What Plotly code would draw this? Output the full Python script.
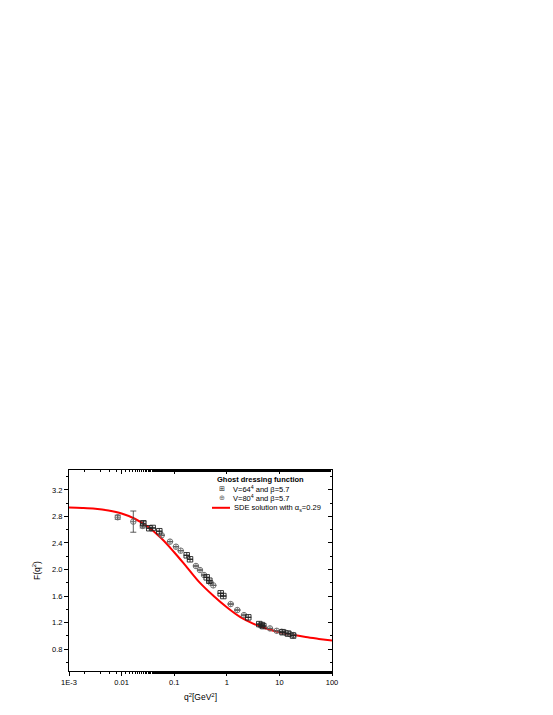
"""Ghost dressing function: lattice data vs. SDE solution."""

import plotly.graph_objects as go

FONT = "Liberation Sans, Arial, sans-serif"

# V=64^4, beta=5.7 (squares)
q2_64 = [0.0259, 0.0336, 0.039, 0.0521, 0.173, 0.2, 0.415, 0.465, 0.766, 0.859,
         2.56, 4.15, 4.61, 4.94, 11.5, 14.6, 18.2]
f_64 = [2.697, 2.622, 2.626, 2.577, 2.214, 2.154, 1.882, 1.831, 1.641, 1.600,
        1.279, 1.177, 1.162, 1.147, 1.055, 1.034, 1.004]
err_64 = [0.03, 0.0, 0.0, 0.0, 0.0, 0.0, 0.0, 0.0, 0.0, 0.0,
          0.0, 0.0, 0.0, 0.0, 0.0, 0.0, 0.0]

# V=80^4, beta=5.7 (circles)
q2_80 = [0.00843, 0.0167, 0.0252, 0.0578, 0.0832, 0.108, 0.133, 0.259, 0.309, 0.369,
         0.494, 0.553, 1.186, 1.585, 2.12, 6.62, 8.89, 11.07, 13.3, 15.9, 18.4]
f_80 = [2.788, 2.722, 2.657, 2.516, 2.420, 2.344, 2.284, 2.053, 1.992, 1.917,
        1.801, 1.761, 1.479, 1.389, 1.313, 1.112, 1.076, 1.061, 1.046, 1.026, 1.011]
err_80 = [0.03, 0.16, 0.03, 0.0, 0.0, 0.0, 0.0, 0.0, 0.0, 0.0,
          0.0, 0.0, 0.0, 0.0, 0.0, 0.0, 0.0, 0.0, 0.0, 0.0, 0.0]

q2_sde = [0.001, 0.00178, 0.00316, 0.00562, 0.01, 0.0178, 0.0316, 0.0562, 0.1, 0.178, 0.316,
          0.562, 1.0, 1.78, 3.16, 5.62, 10.0, 17.8, 31.6, 56.2, 100.0]
f_sde = [2.933, 2.927, 2.915, 2.888, 2.843, 2.765, 2.645, 2.475, 2.26, 2.025, 1.79,
         1.60, 1.43, 1.285, 1.185, 1.11, 1.055, 1.015, 0.982, 0.954, 0.928]

x_tickvals = [0.001, 0.01, 0.1, 1, 10, 100]
x_ticktext = ["1E-3", "0.01", "0.1", "1", "10", "100"]
y_tickvals = [0.8, 1.2, 1.6, 2.0, 2.4, 2.8, 3.2]

X_RANGE = [-3, 2]
Y_RANGE = [0.47, 3.5]

# page body keeps an 8px margin, so the figure is offset by that much
PAD = 8
PLOT_L, PLOT_T, PLOT_W, PLOT_H = 69, 470, 263, 201

fig = go.Figure()
fig.add_trace(go.Scatter(
    x=q2_sde, y=f_sde, mode="lines", line=dict(color="#ff0000", width=2, shape="spline"),
    showlegend=False,
))
fig.add_trace(go.Scatter(
    x=q2_80, y=f_80, mode="markers",
    marker=dict(symbol="circle-cross-open", size=5.5, color="#666666", line=dict(width=0.9)),
    error_y=dict(type="data", array=err_80, color="#333333", thickness=0.8, width=3),
    showlegend=False,
))
fig.add_trace(go.Scatter(
    x=q2_64, y=f_64, mode="markers",
    marker=dict(symbol="square-cross-open", size=5.5, color="#222222", line=dict(width=0.9)),
    error_y=dict(type="data", array=err_64, color="#333333", thickness=0.8, width=3),
    showlegend=False,
))
# invisible trace so the mirrored top/right frame axes get drawn
fig.add_trace(go.Scatter(
    x=q2_sde, y=f_sde, xaxis="x2", yaxis="y2", mode="lines",
    line=dict(width=0, color="rgba(0,0,0,0)"), hoverinfo="skip", showlegend=False,
))


def px_to_paper(xpx, ypx):
    return (xpx - PLOT_L) / PLOT_W, 1 - (ypx - PLOT_T) / PLOT_H


# hand-made legend (Origin style, tight rows)
legend_rows = [
    ("<b>Ghost dressing function</b>", 0, 215),
    ("V=64<sup>4</sup> and β=5.7", 1, 231),
    ("V=80<sup>4</sup> and β=5.7", 2, 231),
    ("SDE solution with α<sub>s</sub>=0.29", 3, 232),
]
row_h = 9.6
top_px = 479
for text, row, xpx in legend_rows:
    xp, yp = px_to_paper(xpx, top_px + row * row_h)
    fig.add_annotation(
        x=xp, y=yp, xref="paper", yref="paper", text=text, showarrow=False,
        xanchor="left", yanchor="middle", font=dict(family=FONT, size=7.5, color="black"),
    )
for sym, row, col in [("⊞", 1, "#222222"), ("⊕", 2, "#666666")]:
    xp, yp = px_to_paper(222, top_px + row * row_h)
    fig.add_annotation(
        x=xp, y=yp, xref="paper", yref="paper", text=sym, showarrow=False,
        xanchor="center", yanchor="middle", font=dict(family="DejaVu Sans", size=7, color=col),
    )
x0, yl = px_to_paper(212, top_px + 3 * row_h)
x1, _ = px_to_paper(230, top_px)
fig.add_shape(type="line", xref="paper", yref="paper", x0=x0, x1=x1, y0=yl, y1=yl,
              line=dict(color="#ff0000", width=2))

W, H = 553 - 2 * PAD, 715 - 2 * PAD
axis_font = dict(family=FONT, size=7.5, color="black")
frame = dict(showline=True, linecolor="black", linewidth=1, showgrid=False,
             zeroline=False, automargin=False)
fig.update_layout(
    width=W, height=H,
    margin=dict(l=PLOT_L - PAD, r=W - (PLOT_L - PAD) - PLOT_W,
                t=PLOT_T - PAD, b=H - (PLOT_T - PAD) - PLOT_H),
    paper_bgcolor="white", plot_bgcolor="white",
    font=dict(family=FONT, color="black"),
    showlegend=False,
    xaxis=dict(
        type="log", range=X_RANGE, tickvals=x_tickvals, ticktext=x_ticktext,
        ticks="outside", ticklen=4, tickwidth=1, tickcolor="black",
        minor=dict(ticks="outside", ticklen=2, tickcolor="black", showgrid=False),
        tickfont=axis_font,
        title=dict(text="q<sup>2</sup>[GeV<sup>2</sup>]", font=dict(family=FONT, size=8.5), standoff=8),
        **frame,
    ),
    yaxis=dict(
        range=Y_RANGE, tickvals=y_tickvals, tickformat=".1f",
        ticks="outside", ticklen=4, tickwidth=1, tickcolor="black",
        minor=dict(ticks="outside", ticklen=2, tickcolor="black", dtick=0.2, tick0=0, showgrid=False),
        tickfont=axis_font,
        title=dict(text="F(q<sup>2</sup>)", font=dict(family=FONT, size=8.5), standoff=10),
        **frame,
    ),
    xaxis2=dict(
        type="log", range=X_RANGE, overlaying="x", side="top", tickvals=x_tickvals,
        ticks="inside", ticklen=4, tickcolor="black", showticklabels=False,
        minor=dict(ticks="inside", ticklen=2, tickcolor="black", showgrid=False),
        **frame,
    ),
    yaxis2=dict(
        range=Y_RANGE, overlaying="y", side="right", tickvals=y_tickvals,
        ticks="inside", ticklen=4, tickcolor="black", showticklabels=False,
        minor=dict(ticks="inside", ticklen=2, tickcolor="black", dtick=0.2, tick0=0, showgrid=False),
        **frame,
    ),
)

fig.write_html("out.html")
